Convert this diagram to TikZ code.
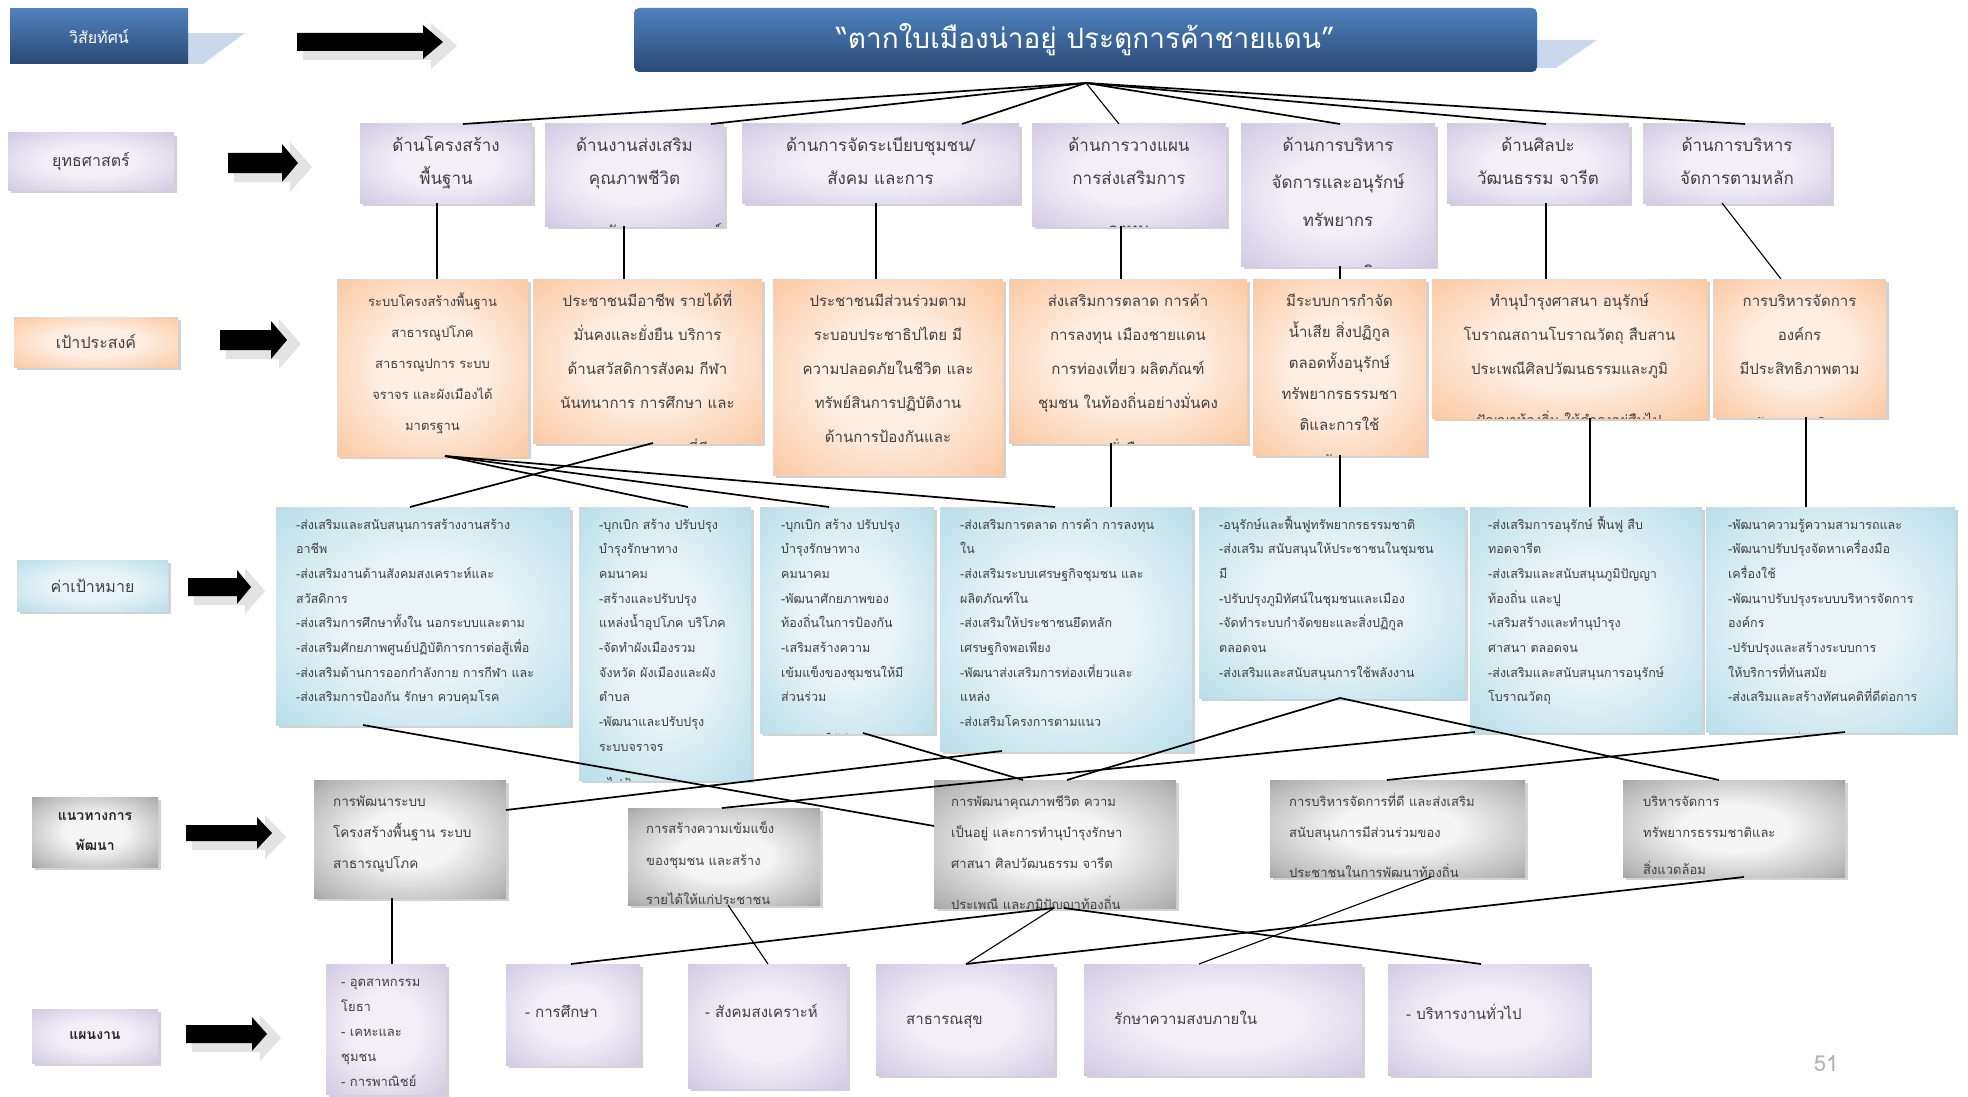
\documentclass[tikz,border=0pt]{standalone}
\usepackage{fontspec}
\newfontfamily\thai[Script=Thai]{Loma}
\usetikzlibrary{shadows,calc}
\definecolor{purpC}{HTML}{F2EFF7}
\definecolor{purpM}{HTML}{D5CCE4}
\definecolor{purpE}{HTML}{A898C4}
\definecolor{orC}{HTML}{FEEEE2}
\definecolor{orM}{HTML}{FBCBA6}
\definecolor{orE}{HTML}{F6A66C}
\definecolor{blC}{HTML}{E8F4F7}
\definecolor{blM}{HTML}{BCE0EA}
\definecolor{blE}{HTML}{7FBFD3}
\definecolor{grC}{HTML}{F5F5F5}
\definecolor{grM}{HTML}{B5B5B5}
\definecolor{grE}{HTML}{5C5C5C}
\definecolor{tiT}{HTML}{4F81BD}
\definecolor{tiB}{HTML}{2A4A74}
\definecolor{shb}{HTML}{C9D8EC}
\definecolor{txc}{HTML}{404040}
\pgfdeclareradialshading{purpsh}{\pgfpoint{0bp}{0bp}}{color(0bp)=(purpC); color(14bp)=(purpC); color(34bp)=(purpM); color(50bp)=(purpE)}
\pgfdeclareradialshading{orsh}{\pgfpoint{0bp}{0bp}}{color(0bp)=(orC); color(14bp)=(orC); color(34bp)=(orM); color(50bp)=(orE)}
\pgfdeclareradialshading{blsh}{\pgfpoint{0bp}{0bp}}{color(0bp)=(blC); color(14bp)=(blC); color(34bp)=(blM); color(50bp)=(blE)}
\pgfdeclareradialshading{grsh}{\pgfpoint{0bp}{0bp}}{color(0bp)=(grC); color(12bp)=(grC); color(32bp)=(grM); color(50bp)=(grE)}
\tikzset{
 base/.style={rectangle, inner sep=0pt, outer sep=0pt, anchor=north west},
 shad/.style={drop shadow={shadow xshift=3pt, shadow yshift=-3pt, opacity=0.5, fill=gray!70}},
 pbox/.style={base, shad, shade, shading=purpsh},
 obox/.style={base, shad, shade, shading=orsh},
 bbox/.style={base, shad, shade, shading=blsh},
 gbox/.style={base, shad, shade, shading=grsh},
 conn/.style={draw=black, line width=1.7pt},
 thinconn/.style={draw=black, line width=1.1pt},
 txt/.style={inner sep=0pt, text=txc},
}
\newcommand\bx[6]{\node[#2, minimum width={(#5-#3)*1pt}, minimum height={(#6-#4)*1pt}] (#1) at (#3,#4) {};}
\newcommand\cenlines[5]{%
 \foreach \t [count=\i] in {#5}{%
  \node[txt, font=\thai\fontsize{#2}{#2}\selectfont, anchor=base, name=#1-l\i] at ($(#1.center |- 0,#3)+(0,{(\i-1)*#4})$) {\t};}}
\newcommand\lftlines[6]{%
 \foreach \t [count=\i] in {#6}{%
  \node[txt, font=\thai\fontsize{#2}{#2}\selectfont, anchor=base west, name=#1-l\i] at (#3,{#4+(\i-1)*#5}) {\t};}}
\newcommand\cutline[6]{%
 \begin{scope}\clip (#1.north west) rectangle (#1.south east);
 \node[txt, font=\thai\fontsize{#2}{#2}\selectfont, anchor=#3, name=#1-cut] at (#4,#5) {#6};
 \end{scope}}
\newcommand\blockarrow[6]{% x0 x1 yc bodyhalf headhalf headlen
 \fill[gray!22] ({#1+6},{#3-#4+5}) -- ({#2-#6+8},{#3-#4+5}) -- ({#2-#6+8},{#3-#5-2}) -- ({#2+14},{#3+4}) -- ({#2-#6+8},{#3+#5+10}) -- ({#2-#6+8},{#3+#4+9}) -- ({#1+6},{#3+#4+9}) -- cycle;
 \fill[black] (#1,{#3-#4}) -- ({#2-#6},{#3-#4}) -- ({#2-#6},{#3-#5}) -- (#2,#3) -- ({#2-#6},{#3+#5}) -- ({#2-#6},{#3+#4}) -- (#1,{#3+#4}) -- cycle;}
\begin{document}
\begin{tikzpicture}[x=1pt,y=-1pt]
\fill[white] (0,0) rectangle (1968,1097);
\useasboundingbox (0,0) rectangle (1968,1097);
% reflections
\fill[shb] (188,33) -- (245,33) -- (203,64) -- (188,64) -- cycle;
\fill[shb] (1537,40) -- (1597,40) -- (1556,68) -- (1537,68) -- cycle;
% title and left labels
\node[base, rounded corners=5pt, top color=tiT, bottom color=tiB, minimum width=903pt, minimum height=64pt, text=white, font=\thai\fontsize{28}{28}\selectfont] (title) at (634,8) {“ตากใบเมืองน่าอยู่ ประตูการค้าชายแดน”};
\node[base, top color=tiT, bottom color=tiB, minimum width=178pt, minimum height=55pt, text=white, font=\thai\fontsize{16}{16}\selectfont] (lv) at (10,9) {วิสัยทัศน์};
\node[pbox, minimum width=166pt, minimum height=57pt, text=txc, font=\thai\fontsize{16}{16}\selectfont] (ls) at (8,133) {ยุทธศาสตร์};
\node[obox, minimum width=164pt, minimum height=50pt, text=txc, font=\thai\fontsize{16}{16}\selectfont] (lg) at (14,317) {เป้าประสงค์};
\node[bbox, minimum width=151pt, minimum height=51pt, text=txc, font=\thai\fontsize{16}{16}\selectfont] (lt) at (17,560) {ค่าเป้าหมาย};
\node[gbox, minimum width=126pt, minimum height=70pt, text=black!85, align=center, font=\thai\bfseries\fontsize{14}{30}\selectfont] (ld) at (32,797) {แนวทางการ\\พัฒนา};
\node[pbox, minimum width=126pt, minimum height=54pt, text=black!85, font=\thai\bfseries\fontsize{14}{14}\selectfont] (lp) at (32,1009) {แผนงาน};
% arrows
\blockarrow{297}{443}{42}{9}{17}{20}
\blockarrow{228}{298}{163}{10}{19}{16}
\blockarrow{220}{287}{340}{10}{19}{16}
\blockarrow{188}{251}{587}{9}{17}{14}
\blockarrow{186}{272}{833}{8}{16}{15}
\blockarrow{186}{267}{1034}{9}{17}{15}
% strategy boxes
\bx{s1}{pbox}{360}{124}{532}{203}
\bx{s2}{pbox}{545}{124}{724}{226}
\bx{s3}{pbox}{742}{124}{1019}{203}
\bx{s4}{pbox}{1032}{124}{1226}{226}
\bx{s5}{pbox}{1241}{124}{1435}{266}
\bx{s6}{pbox}{1447}{124}{1629}{203}
\bx{s7}{pbox}{1643}{124}{1831}{203}
% goal boxes
\bx{g1}{obox}{337}{279}{528}{456}
\bx{g2}{obox}{533}{279}{762}{443}
\bx{g3}{obox}{773}{279}{1003}{475}
\bx{g4}{obox}{1009}{279}{1247}{443}
\bx{g5}{obox}{1253}{279}{1426}{455}
\bx{g6}{obox}{1432}{279}{1707}{418}
\bx{g7}{obox}{1713}{279}{1886}{417}
% target boxes
\bx{t1}{bbox}{276}{507}{570}{725}
\bx{t2}{bbox}{579}{507}{751}{780}
\bx{t3}{bbox}{760}{507}{934}{733}
\bx{t4}{bbox}{940}{507}{1192}{751}
\bx{t5}{bbox}{1199}{507}{1465}{698}
\bx{t6}{bbox}{1470}{507}{1702}{732}
\bx{t7}{bbox}{1706}{507}{1955}{732}
% development boxes
\bx{d1}{gbox}{314}{780}{506}{898}
\bx{d2}{gbox}{628}{808}{820}{905}
\bx{d3}{gbox}{934}{780}{1176}{908}
\bx{d4}{gbox}{1270}{780}{1525}{877}
\bx{d5}{gbox}{1623}{780}{1845}{877}
% plan boxes
\bx{p1}{pbox}{326}{964}{446}{1094}
\bx{p2}{pbox}{506}{964}{640}{1065}
\bx{p3}{pbox}{688}{964}{847}{1088}
\bx{p4}{pbox}{876}{964}{1054}{1075}
\bx{p5}{pbox}{1084}{964}{1362}{1075}
\bx{p6}{pbox}{1388}{964}{1589}{1075}
% strategy texts
\cenlines{s1}{17}{152}{33}{ด้านโครงสร้าง,พื้นฐาน}
\cenlines{s2}{17}{152}{33}{ด้านงานส่งเสริม,คุณภาพชีวิต}
\cutline{s2}{17}{base}{634}{238}{และการสังคมสงเคราะห์}
\cenlines{s3}{17}{152}{33}{ด้านการจัดระเบียบชุมชน/,สังคม และการ}
\cenlines{s4}{17}{152}{33}{ด้านการวางแผน,การส่งเสริมการ}
\cutline{s4}{17}{base}{1129}{235}{ลงทุน}
\cenlines{s5}{17}{152}{37}{ด้านการบริหาร,จัดการและอนุรักษ์,ทรัพยากร}
\cutline{s5}{17}{base}{1338}{278}{ธรรมชาติ}
\cenlines{s6}{17}{152}{33}{ด้านศิลปะ,วัฒนธรรม จารีต}
\cenlines{s7}{17}{152}{33}{ด้านการบริหาร,จัดการตามหลัก}
% goal texts
\cenlines{g1}{13}{306}{31}{ระบบโครงสร้างพื้นฐาน,สาธารณูปโภค,สาธารณูปการ  ระบบ,จราจร และผังเมืองได้,มาตรฐาน}
\cenlines{g2}{15}{306}{34}{ประชาชนมีอาชีพ รายได้ที่,มั่นคงและยั่งยืน บริการ,ด้านสวัสดิการสังคม กีฬา,นันทนาการ การศึกษา และ}
\cutline{g2}{15}{base}{647}{454}{การสาธารณสุขที่ดี}
\cenlines{g3}{15}{306}{34}{ประชาชนมีส่วนร่วมตาม,ระบอบประชาธิปไตย มี,ความปลอดภัยในชีวิต และ,ทรัพย์สินการปฏิบัติงาน,ด้านการป้องกันและ}
\cenlines{g4}{15}{306}{34}{ส่งเสริมการตลาด การค้า,การลงทุน เมืองชายแดน,การท่องเที่ยว ผลิตภัณฑ์,ชุมชน ในท้องถิ่นอย่างมั่นคง}
\cutline{g4}{15}{base}{1128}{454}{ยั่งยืน}
\cenlines{g5}{15}{306}{31}{มีระบบการกำจัด,น้ำเสีย สิ่งปฏิกูล,ตลอดทั้งอนุรักษ์,ทรัพยากรธรรมชา,ติและการใช้}
\cutline{g5}{15}{base}{1339}{466}{พลังงาน}
\cenlines{g6}{15}{306}{34}{ทำนุบำรุงศาสนา อนุรักษ์,โบราณสถานโบราณวัตถุ สืบสาน,ประเพณีศิลปวัฒนธรรมและภูมิ}
\cutline{g6}{14}{base}{1569}{425}{ปัญญาท้องถิ่น ให้ดำรงอยู่สืบไป}
\cenlines{g7}{15}{306}{34}{การบริหารจัดการ,องค์กร,มีประสิทธิภาพตาม}
\cutline{g7}{15}{base}{1799}{429}{หลักธรรมาภิบาล}
% target texts
\lftlines{t1}{12.5}{296}{529}{24.7}{-ส่งเสริมและสนับสนุนการสร้างงานสร้าง,อาชีพ,-ส่งเสริมงานด้านสังคมสงเคราะห์และ,สวัสดิการ,-ส่งเสริมการศึกษาทั้งใน นอกระบบและตาม,-ส่งเสริมศักยภาพศูนย์ปฏิบัติการการต่อสู้เพื่อ,-ส่งเสริมด้านการออกกำลังกาย การกีฬา และ,-ส่งเสริมการป้องกัน รักษา ควบคุมโรค}
\lftlines{t2}{12.5}{599}{529}{24.7}{-บุกเบิก สร้าง ปรับปรุง,บำรุงรักษาทาง,คมนาคม,-สร้างและปรับปรุง,แหล่งน้ำอุปโภค บริโภค,-จัดทำผังเมืองรวม,จังหวัด ผังเมืองและผัง,ตำบล,-พัฒนาและปรับปรุง,ระบบจราจร}
\cutline{t2}{12.5}{base west}{599}{788}{- ไฟฟ้า}
\lftlines{t3}{12.5}{781}{529}{24.7}{-บุกเบิก สร้าง ปรับปรุง,บำรุงรักษาทาง,คมนาคม,-พัฒนาศักยภาพของ,ท้องถิ่นในการป้องกัน,-เสริมสร้างความ,เข้มแข็งของชุมชนให้มี,ส่วนร่วม}
\cutline{t3}{12.5}{base west}{781}{744}{-ส่งเสริมให้มีการจัดการ}
\lftlines{t4}{12.5}{960}{529}{24.7}{-ส่งเสริมการตลาด การค้า การลงทุน,ใน,-ส่งเสริมระบบเศรษฐกิจชุมชน และ,ผลิตภัณฑ์ใน,-ส่งเสริมให้ประชาชนยึดหลัก,เศรษฐกิจพอเพียง,-พัฒนาส่งเสริมการท่องเที่ยวและ,แหล่ง,-ส่งเสริมโครงการตามแนว}
\lftlines{t5}{12.5}{1219}{529}{24.7}{-อนุรักษ์และฟื้นฟูทรัพยากรธรรมชาติ,-ส่งเสริม สนับสนุนให้ประชาชนในชุมชน,มี,-ปรับปรุงภูมิทัศน์ในชุมชนและเมือง,-จัดทำระบบกำจัดขยะและสิ่งปฏิกูล,ตลอดจน,-ส่งเสริมและสนับสนุนการใช้พลังงาน}
\lftlines{t6}{12.5}{1488}{529}{24.7}{-ส่งเสริมการอนุรักษ์ ฟื้นฟู สืบ,ทอดจารีต,-ส่งเสริมและสนับสนุนภูมิปัญญา,ท้องถิ่น และปู,-เสริมสร้างและทำนุบำรุง,ศาสนา ตลอดจน,-ส่งเสริมและสนับสนุนการอนุรักษ์,โบราณวัตถุ}
\cutline{t6}{12.5}{base west}{1488}{743}{-ส่งเสริมกิจกรรมทางศาสนา}
\lftlines{t7}{12.5}{1728}{529}{24.7}{-พัฒนาความรู้ความสามารถและ,-พัฒนาปรับปรุงจัดหาเครื่องมือ,เครื่องใช้,-พัฒนาปรับปรุงระบบบริหารจัดการ,องค์กร,-ปรับปรุงและสร้างระบบการ,ให้บริการที่ทันสมัย,-ส่งเสริมและสร้างทัศนคติที่ดีต่อการ}
\cutline{t7}{12.5}{base west}{1728}{743}{จัดการอย่างมีส่วนร่วม}
% development texts
\lftlines{d1}{13.5}{333}{806}{31}{การพัฒนาระบบ,โครงสร้างพื้นฐาน  ระบบ,สาธารณูปโภค}
\lftlines{d2}{13}{646}{833}{32}{การสร้างความเข้มแข็ง,ของชุมชน และสร้าง}
\cutline{d2}{13}{base west}{646}{904}{รายได้ให้แก่ประชาชน}
\lftlines{d3}{13}{951}{806}{31}{การพัฒนาคุณภาพชีวิต ความ,เป็นอยู่ และการทำนุบำรุงรักษา,ศาสนา ศิลปวัฒนธรรม จารีต}
\cutline{d3}{13}{base west}{951}{909}{ประเพณี และภูมิปัญญาท้องถิ่น}
\lftlines{d4}{13}{1289}{806}{31}{การบริหารจัดการที่ดี และส่งเสริม,สนับสนุนการมีส่วนร่วมของ}
\cutline{d4}{13}{base west}{1289}{877}{ประชาชนในการพัฒนาท้องถิ่น}
\lftlines{d5}{13}{1643}{806}{31}{บริหารจัดการ,ทรัพยากรธรรมชาติและ}
\cutline{d5}{13}{base west}{1643}{874}{สิ่งแวดล้อม}
% plan texts
\lftlines{p1}{13}{341}{986}{25}{- อุตสาหกรรม,โยธา,- เคหะและ,ชุมชน,- การพาณิชย์}
\lftlines{p2}{15}{525}{1017}{25}{- การศึกษา}
\lftlines{p3}{15}{705}{1017}{25}{- สังคมสงเคราะห์}
\lftlines{p4}{15}{906}{1024}{25}{สาธารณสุข}
\lftlines{p5}{15}{1114}{1024}{25}{รักษาความสงบภายใน}
\lftlines{p6}{15}{1406}{1019}{25}{- บริหารงานทั่วไป}
\node[font=\thai\fontsize{22}{22}\selectfont, text=gray!60, inner sep=0pt] (pg) at (1826,1064) {51};
% connectors
\coordinate (hub) at (1086,83);
\draw[conn] (hub) -- (s1.north -| 463,0);
\draw[conn] (hub) -- (s2.north -| 711,0);
\draw[conn] (hub) -- (s3.north -| 962,0);
\draw[thinconn] (hub) -- (s4.north -| 1119,0);
\draw[conn] (hub) -- (s5.north -| 1340,0);
\draw[conn] (hub) -- (s6.north -| 1546,0);
\draw[conn] (hub) -- (s7.north -| 1745,0);
\draw[thinconn] (s1.south -| 437,0) -- (g1.north -| 437,0);
\draw[thinconn] (s2.south -| 624,0) -- (g2.north -| 624,0);
\draw[thinconn] (s3.south -| 876,0) -- (g3.north -| 876,0);
\draw[thinconn] (s4.south -| 1121,0) -- (g4.north -| 1121,0);
\draw[thinconn] (s5.south -| 1340,0) -- (g5.north -| 1340,0);
\draw[thinconn] (s6.south -| 1546,0) -- (g6.north -| 1546,0);
\draw[thinconn] (s7.south -| 1722,0) -- (g7.north -| 1781,0);
\draw[conn] (g1.south -| 445,0) -- (t2.north -| 688,0);
\draw[conn] (g1.south -| 445,0) -- (t3.north -| 829,0);
\draw[conn] (g1.south -| 445,0) -- (t4.north -| 1055,0);
\draw[conn] (g2.south -| 653,0) -- (t1.north -| 410,0);
\draw[thinconn] (g4.south -| 1111,0) -- (t4.north -| 1111,0);
\draw[thinconn] (g5.south -| 1340,0) -- (t5.north -| 1340,0);
\draw[thinconn] (g6.south -| 1590,0) -- (t6.north -| 1590,0);
\draw[thinconn] (g7.south -| 1806,0) -- (t7.north -| 1806,0);
\draw[conn] (t1.south -| 363,0) -- (d3.west |- 0,826);
\draw[conn] (d1.east |- 0,810) -- (t4.south -| 1002,0);
\draw[conn] (d2.north -| 722,0) -- (t6.south -| 1475,0);
\draw[conn] (t3.south -| 863,0) -- (d3.north -| 1023,0);
\draw[conn] (t5.south -| 1340,0) -- (d3.north -| 1067,0);
\draw[conn] (t5.south -| 1340,0) -- (d5.north -| 1719,0);
\draw[conn] (d4.north -| 1387,0) -- (t7.south -| 1845,0);
\draw[thinconn] (d1.south -| 392,0) -- (p1.north -| 392,0);
\draw[thinconn] (d2.south -| 728,0) -- (p3.north -| 768,0);
\draw[conn] (d3.south -| 1054,0) -- (p2.north -| 571,0);
\draw[conn] (d3.south -| 1064,0) -- (p6.north -| 1481,0);
\draw[thinconn] (d3.south -| 1054,0) -- (p4.north -| 966,0);
\draw[thinconn] (d4.south -| 1431,0) -- (p5.north -| 1199,0);
\draw[conn] (d5.south -| 1744,0) -- (p4.north -| 966,0);
\end{tikzpicture}
\end{document}
